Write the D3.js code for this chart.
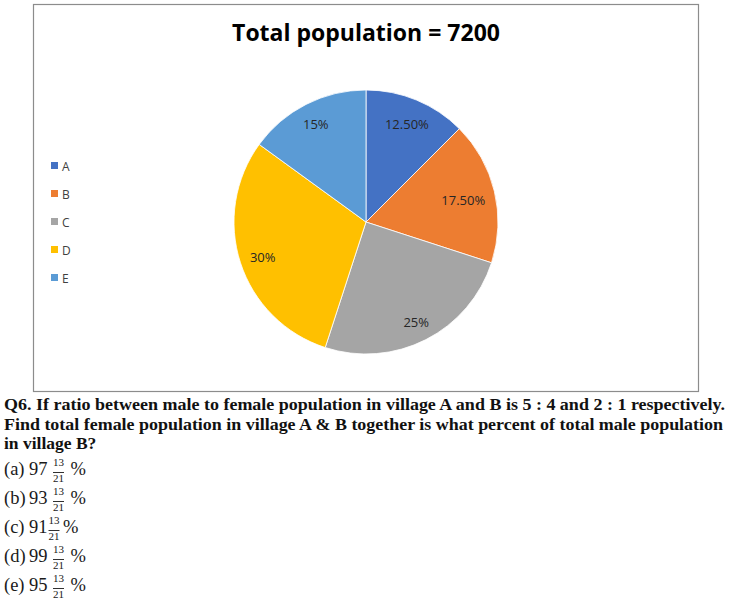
<!DOCTYPE html>
<html><head><meta charset="utf-8">
<script src="https://cdn.jsdelivr.net/npm/d3@7"></script>
<style>body{margin:0;background:#fff}svg{display:block}</style>
</head><body>
<script>
const categories = ["A","B","C","D","E"];
const values = [12.5, 17.5, 25, 30, 15];
const labels = ["12.50%","17.50%","25%","30%","15%"];
const colors = ["#4472C4","#ED7D31","#A5A5A5","#FFC000","#5B9BD5"];
const title = "Total population = 7200";
const questionLines = [
  "Q6. If ratio between male to female population in village A and B is 5 : 4 and 2 : 1 respectively.",
  "Find total female population in village A & B together is what percent of total male population",
  "in village B?"
];
const optionLetters = ["(a)","(b)","(c)","(d)","(e)"];
const optionWhole = ["97","93","91","99","95"];
const optionNum = ["13","13","13","13","13"];
const optionDen = ["21","21","21","21","21"];

const W = 730, H = 608;
const svg = d3.select("body").append("svg").attr("width", W).attr("height", H);
svg.append("rect").attr("width", W).attr("height", H).attr("fill", "#fff");

// chart frame
svg.append("rect").attr("x", 33.5).attr("y", 4.5).attr("width", 665).attr("height", 387)
  .attr("fill", "#fff").attr("stroke", "#8c8c8c").attr("stroke-width", 1.2);

svg.append("text").attr("x", 366).attr("y", 41).attr("text-anchor", "middle")
  .attr("font-family", "'Open Sans', 'Noto Sans', sans-serif").attr("font-weight", "bold")
  .attr("font-size", 23).attr("fill", "#000").text(title);

const cx = 366, cy = 222, R = 132;
const pie = d3.pie().sort(null).value(d => d)(values);
const arc = d3.arc().innerRadius(0).outerRadius(R);
const g = svg.append("g").attr("transform", `translate(${cx},${cy})`);
const color = d3.scaleOrdinal().domain(categories).range(colors);
g.selectAll("path").data(pie).join("path")
  .attr("d", arc).attr("fill", (d, i) => color(categories[i]))
  .attr("stroke", "#fff").attr("stroke-width", 0.8);

const lab = g.selectAll("text.lbl").data(pie).join("text").attr("class", "lbl")
  .attr("font-family", "'Open Sans', 'Noto Sans', sans-serif").attr("font-size", 13)
  .attr("fill", "#262626").attr("text-anchor", "middle").attr("dy", "0.35em")
  .text((d, i) => labels[i]);
lab.each(function(d) {
  const w = this.getComputedTextLength() / 2, h = 7, pad = 9;
  const a = (d.startAngle + d.endAngle) / 2;
  const ux = Math.sin(a), uy = -Math.cos(a);
  let lo = 0, hi = R;
  for (let k = 0; k < 40; k++) {
    const m = (lo + hi) / 2;
    const px = m * ux, py = m * uy;
    let far = 0;
    for (const sx of [-1, 1]) for (const sy of [-1, 1]) far = Math.max(far, Math.hypot(px + sx * w, py + sy * h));
    if (far > R - pad) hi = m; else lo = m;
  }
  d3.select(this).attr("x", lo * ux).attr("y", lo * uy + 1.5);
});

// legend
const leg = svg.append("g");
categories.forEach((c, i) => {
  leg.append("rect").attr("x", 51).attr("y", 162 + i * 28).attr("width", 7).attr("height", 7).attr("fill", color(c));
  leg.append("text").attr("x", 62).attr("y", 170.5 + i * 28)
    .attr("font-family", "'Open Sans', 'Noto Sans', sans-serif").attr("font-size", 12)
    .attr("fill", "#404040").text(c);
});

// question
const qBase = [410, 430, 449];
const qLen = [721, 719, null];
questionLines.forEach((t, i) => {
  const tx = svg.append("text").attr("x", 4).attr("y", qBase[i])
    .attr("font-family", "'Liberation Serif', 'DejaVu Serif', serif").attr("font-weight", "bold")
    .attr("font-size", 17.5).attr("fill", "#111").text(t);
  if (qLen[i]) tx.attr("textLength", qLen[i]).attr("lengthAdjust", "spacingAndGlyphs");
});

// options
optionLetters.forEach((L, i) => {
  const base = 475 + i * 29;
  const f = "'Liberation Serif', 'DejaVu Serif', serif";
  svg.append("text").attr("x", 4).attr("y", base).attr("font-family", f).attr("font-size", 18.5)
    .attr("fill", "#1a1a1a").text(L);
  const whole = svg.append("text").attr("x", 29).attr("y", base).attr("font-family", f).attr("font-size", 18.5)
    .attr("fill", "#1a1a1a").text(optionWhole[i]);
  const ww = whole.node().getComputedTextLength();
  const tight = i === 2;
  const fx = 29 + ww + (tight ? 1.5 : 6);
  const fw = 10;
  svg.append("text").attr("x", fx + fw / 2).attr("y", base - 9.5).attr("text-anchor", "middle")
    .attr("font-family", f).attr("font-size", 11).attr("fill", "#1a1a1a").text(optionNum[i]);
  svg.append("line").attr("x1", fx - 0.5).attr("x2", fx + fw + 0.5).attr("y1", base - 2.5).attr("y2", base - 2.5)
    .attr("stroke", "#1a1a1a").attr("stroke-width", 0.9);
  svg.append("text").attr("x", fx + fw / 2).attr("y", base + 7).attr("text-anchor", "middle")
    .attr("font-family", f).attr("font-size", 11).attr("fill", "#1a1a1a").text(optionDen[i]);
  svg.append("text").attr("x", fx + fw + (tight ? 4 : 7)).attr("y", base).attr("font-family", f).attr("font-size", 18.5)
    .attr("fill", "#1a1a1a").text("%");
});
</script>
</body></html>
